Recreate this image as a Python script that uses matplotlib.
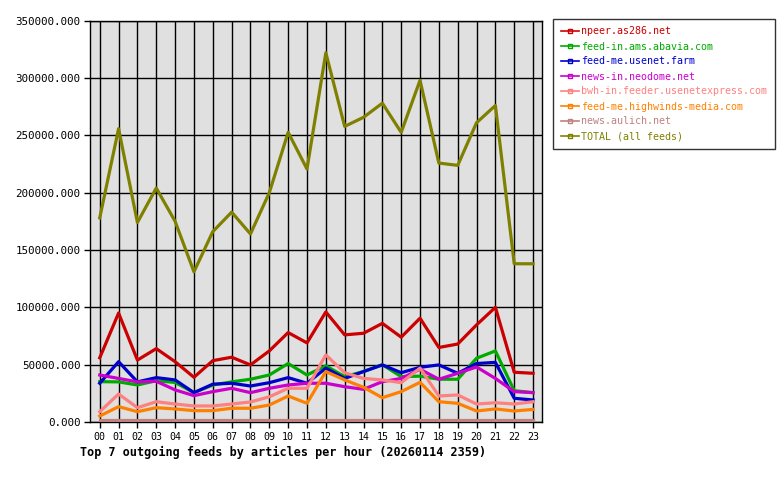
import matplotlib
matplotlib.use('Agg')
from matplotlib import pyplot as plt
from matplotlib.lines import Line2D

# hours of the day
hours = ['%02d' % h for h in range(24)]

# articles per hour, one list per feed
npeer = [56000, 95000, 54000, 64000, 52600, 39000, 53500, 56500, 49800, 62000, 78000, 69000,
         96000, 76000, 77400, 86000, 74000, 90500, 65000, 68000, 84700, 100000, 43400, 42500]
ams_abavia = [35200, 35000, 32300, 36000, 34500, 25600, 32300, 35000, 37300, 41000, 51000, 41000,
              49000, 39600, 44000, 50000, 39600, 40000, 37300, 37300, 55600, 62000, 27300, 25600]
usenet_farm = [33800, 52600, 35000, 38700, 36700, 25600, 33000, 33800, 31400, 34300, 38700, 33800,
               47000, 38000, 44000, 49800, 43000, 47700, 49800, 42500, 51000, 52000, 20700, 19200]
neodome = [41000, 38000, 35000, 35500, 28000, 23000, 26500, 29400, 25600, 29400, 32300, 33800,
           33800, 30800, 28500, 35200, 38000, 46000, 37300, 42500, 48000, 38000, 26500, 25600]
usenetexpress = [9000, 24400, 12500, 17700, 15700, 14000, 14000, 15700, 17500, 22000, 29400, 29400,
                 58500, 43000, 38000, 36700, 34300, 47000, 22700, 23600, 15700, 16800, 15700, 17700]
highwinds = [5200, 13400, 9000, 12500, 11400, 9900, 9900, 12000, 12000, 14800, 22700, 16300,
             44000, 36700, 30300, 21200, 26500, 34600, 17700, 16300, 9600, 11400, 9600, 11000]
aulich = [1800] * 24
total = [178000, 255800, 174000, 204000, 175000, 131000, 166000, 183000, 164000, 200000, 252600, 220600,
         322000, 257800, 265700, 278000, 252600, 298000, 225800, 223800, 261000, 276000, 138000, 138000]

names = ['npeer.as286.net', 'feed-in.ams.abavia.com', 'feed-me.usenet.farm', 'news-in.neodome.net',
         'bwh-in.feeder.usenetexpress.com', 'feed-me.highwinds-media.com', 'news.aulich.net',
         'TOTAL (all feeds)']
series = [npeer, ams_abavia, usenet_farm, neodome, usenetexpress, highwinds, aulich, total]
colors = ['#cc0000', '#00aa00', '#0000cc', '#cc00cc', '#ff8080', '#ff8000', '#c08080', '#808000']

plt.rcParams['font.family'] = 'DejaVu Sans Mono'

fig = plt.figure(figsize=(7.8, 4.8), dpi=100)
ax = fig.add_axes([0.1158, 0.1208, 0.5797, 0.8362])
ax.set_facecolor('#e0e0e0')

x = list(range(len(hours)))
# draw total first so the feeds sit on top, but keep legend order
ax.plot(x, total, color=colors[7], linewidth=2.3, zorder=2)
for vals, c in zip(series[:7], colors[:7]):
    ax.plot(x, vals, color=c, linewidth=2.3, zorder=3)

ax.set_xlim(-0.5, 23.5)
ax.set_ylim(0, 350000)
ax.set_xticks(x)
ax.set_xticklabels(hours, fontsize=7.2)
ax.set_yticks(range(0, 350001, 50000))
ax.set_yticklabels(['%d.000' % v for v in range(0, 350001, 50000)], fontsize=7.8)
ax.tick_params(direction='out', length=4, width=1, colors='black', pad=3)
ax.grid(True, color='black', linewidth=1, zorder=1)
ax.set_axisbelow(True)
for s in ax.spines.values():
    s.set_linewidth(1)

fig.text(80 / 780, 1 - 452 / 480, 'Top 7 outgoing feeds by articles per hour (20260114 2359)',
         fontsize=8.45, fontweight='bold', va='center', ha='left')

handles = [Line2D([0], [0], color=c, linewidth=1.2, marker='s', markersize=3,
                  markerfacecolor='none', markeredgecolor=c) for c in colors]
leg = fig.legend(handles, names, loc='upper left', bbox_to_anchor=(553 / 780, 1 - 19 / 480),
                 fontsize=7.2, frameon=True, fancybox=False, handlelength=1.8,
                 handletextpad=0.25, labelspacing=0.5, borderpad=0.75, borderaxespad=0)
leg.get_frame().set_edgecolor('black')
leg.get_frame().set_linewidth(1)
for t, c in zip(leg.get_texts(), colors):
    t.set_color(c)

fig.savefig('out.png', dpi=100)
